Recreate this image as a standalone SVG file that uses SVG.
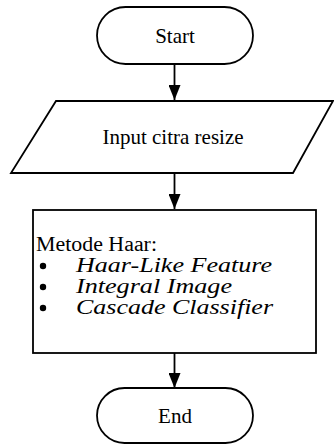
<svg xmlns="http://www.w3.org/2000/svg" width="334" height="445" viewBox="0 0 334 445">
  <style>
    .shape { fill: #ffffff; stroke: #000000; stroke-width: 1.8; }
    .link { fill: none; stroke: #000000; stroke-width: 1.8; }
    .label { font-family: "Liberation Serif", "Times New Roman", serif; font-size: 21px; fill: #000000; }
    .line { font-size: 20px; }
    .item { font-style: italic; }
  </style>
  <defs>
    <marker id="arrow" markerUnits="userSpaceOnUse" markerWidth="16" markerHeight="12" refX="15" refY="6" orient="auto">
      <path d="M0,0 L15,6 L0,12 z" fill="#000000"/>
    </marker>
  </defs>
  <rect width="334" height="445" fill="#ffffff"/>

  <!-- connectors -->
  <g id="connectors">
    <line class="link" x1="174.5" y1="64" x2="174.5" y2="100" marker-end="url(#arrow)"/>
    <line class="link" x1="174.5" y1="173" x2="174.5" y2="209" marker-end="url(#arrow)"/>
    <line class="link" x1="174.5" y1="353" x2="174.5" y2="388" marker-end="url(#arrow)"/>
  </g>

  <!-- start terminator -->
  <g id="start">
    <rect class="shape" x="97" y="7" width="156" height="57" rx="28.5" ry="28.5"/>
    <text class="label" x="175" y="43" text-anchor="middle">Start</text>
  </g>

  <!-- input parallelogram -->
  <g id="input">
    <polygon class="shape" points="56,101 333,101 293,173 11,173"/>
    <text class="label" x="173" y="144" text-anchor="middle">Input citra resize</text>
  </g>

  <!-- process box -->
  <g id="process">
    <rect class="shape" x="33" y="210" width="283" height="143"/>
    <text class="label line" x="36" y="251" textLength="121" lengthAdjust="spacingAndGlyphs">Metode Haar:</text>
    <circle cx="43" cy="266" r="3.2"/>
    <circle cx="43" cy="287" r="3.2"/>
    <circle cx="43" cy="308" r="3.2"/>
    <text class="label line item" x="76" y="272" textLength="196" lengthAdjust="spacingAndGlyphs">Haar-Like Feature</text>
    <text class="label line item" x="76" y="293" textLength="156" lengthAdjust="spacingAndGlyphs">Integral Image</text>
    <text class="label line item" x="76" y="314" textLength="197" lengthAdjust="spacingAndGlyphs">Cascade Classifier</text>
  </g>

  <!-- end terminator -->
  <g id="end">
    <rect class="shape" x="97" y="388" width="156" height="55" rx="27.5" ry="27.5"/>
    <text class="label" x="175" y="423" text-anchor="middle">End</text>
  </g>
</svg>
